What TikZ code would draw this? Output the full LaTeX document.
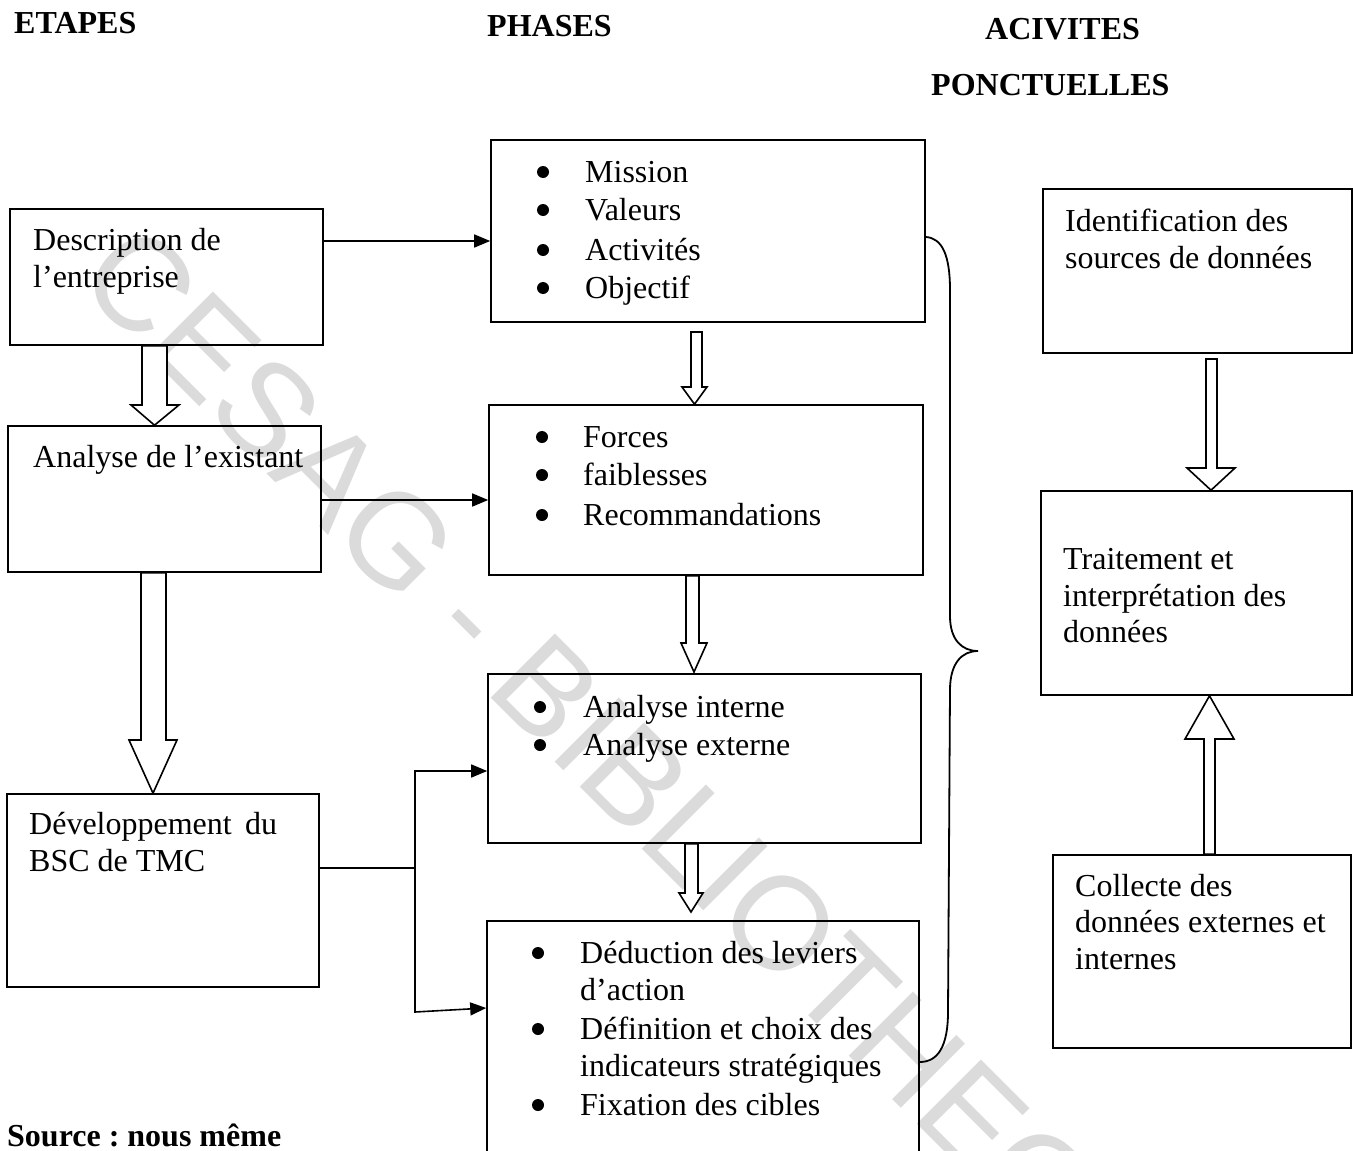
\documentclass[tikz,border=0pt]{standalone}
\usepackage{fontspec}
\setmainfont{Liberation Serif}
\newfontfamily\wmfont{Liberation Sans}
\usetikzlibrary{arrows.meta}
\frenchspacing

\begin{document}
\begin{tikzpicture}[x=1pt,y=-1pt,
  box/.style={draw, line width=1.6pt, inner sep=0pt},
  txt/.style={anchor=base west, inner sep=0pt, font=\fontsize{32}{38}\selectfont},
  hdr/.style={anchor=base west, inner sep=0pt, font=\fontsize{32}{38}\selectfont\bfseries},
  dot/.style={circle, fill, inner sep=0pt, minimum size=12pt},
  link/.style={line width=1.6pt, -{Triangle[length=16pt,width=13pt]}},
  plain/.style={line width=1.6pt},
  blk/.style={draw, line width=1.6pt, fill=white, line join=miter},
  brace/.style={line width=1.8pt},
  wmark/.style={anchor=base west, inner sep=0pt, text=black!14,
    font=\wmfont\fontsize{132}{132}\selectfont}
]
\useasboundingbox (0,0) rectangle (1353,1151);
\clip (0,0) rectangle (1353,1151);

% library stamp across the sheet
\node[wmark, rotate=-45] (stamp) at (74,281) {CESAG - BIBLIOTHEQUE};

% column titles
\node[hdr] (hEtapes) at (14,33) {ETAPES};
\node[hdr] (hPhases) at (487,36) {PHASES};
\node[hdr] (hAct1) at (985,39) {ACIVITES};
\node[hdr] (hAct2) at (931,95) {PONCTUELLES};
\node[hdr] (src) at (7,1146) {Source : nous même};

% steps
\node[box, minimum width=313, minimum height=136] (b1) at (166.5,277) {};
\node[box, minimum width=313, minimum height=146] (b2) at (164.5,499) {};
\node[box, minimum width=312, minimum height=193] (b3) at (163,890.5) {};

\node[txt] (b1a) at (33,250) {Description de};
\node[txt] (b1b) at (33,287) {l’entreprise};
\node[txt] (b2a) at (33,467) {Analyse de l’existant};
\node[txt] (b3a) at (29,834) {\makebox[248pt][s]{Développement du}};
\node[txt] (b3b) at (29,871) {BSC de TMC};

% phases
\node[box, minimum width=434, minimum height=182] (m1) at (708,231) {};
\node[box, minimum width=434, minimum height=170] (m2) at (706,490) {};
\node[box, minimum width=433, minimum height=169] (m3) at (704.5,758.5) {};
\node[box, minimum width=432, minimum height=259] (m4) at (703,1050.5) {};

\node[dot] (m1d1) at (543,172) {}; \node[txt] (m1t1) at (585,182) {Mission};
\node[dot] (m1d2) at (543,210) {}; \node[txt] (m1t2) at (585,220) {Valeurs};
\node[dot] (m1d3) at (543,250) {}; \node[txt] (m1t3) at (585,260) {Activités};
\node[dot] (m1d4) at (543,288) {}; \node[txt] (m1t4) at (585,298) {Objectif};

\node[dot] (m2d1) at (542,437) {}; \node[txt] (m2t1) at (583,447) {Forces};
\node[dot] (m2d2) at (542,475) {}; \node[txt] (m2t2) at (583,485) {faiblesses};
\node[dot] (m2d3) at (542,515) {}; \node[txt] (m2t3) at (583,525) {Recommandations};

\node[dot] (m3d1) at (540,707) {}; \node[txt] (m3t1) at (583,717) {Analyse interne};
\node[dot] (m3d2) at (540,745) {}; \node[txt] (m3t2) at (583,755) {Analyse externe};

\node[dot] (m4d1) at (538,953) {}; \node[txt] (m4t1) at (580,963) {Déduction des leviers};
\node[txt] (m4t2) at (580,1000) {d’action};
\node[dot] (m4d3) at (538,1029) {}; \node[txt] (m4t3) at (580,1039) {Définition et choix des};
\node[txt] (m4t4) at (580,1076) {indicateurs stratégiques};
\node[dot] (m4d5) at (538,1105) {}; \node[txt] (m4t5) at (580,1115) {Fixation des cibles};

% one-off activities
\node[box, minimum width=309, minimum height=164] (r1) at (1197.5,271) {};
\node[box, minimum width=311, minimum height=204] (r2) at (1196.5,593) {};
\node[box, minimum width=298, minimum height=193] (r3) at (1202,951.5) {};

\node[txt] (r1a) at (1065,231) {Identification des};
\node[txt] (r1b) at (1065,268) {sources de données};
\node[txt] (r2a) at (1063,569) {Traitement et};
\node[txt] (r2b) at (1063,606) {interprétation des};
\node[txt] (r2c) at (1063,642) {données};
\node[txt] (r3a) at (1075,896) {Collecte des};
\node[txt] (r3b) at (1075,932) {données externes et};
\node[txt] (r3c) at (1075,969) {internes};

% thin connectors
\draw[link] (b1.east |- 0,241) -- (m1.west |- 0,241);
\draw[link] (b2.east |- 0,500) -- (m2.west |- 0,500);
\coordinate (jn) at (415,868);
\draw[plain] (b3.east |- jn) -- (jn);
\draw[link] (jn) -- (415,771) -- (m3.west |- 0,771);
\draw[link] (jn) -- (415,1012) -- (m4.west |- 0,1008);

% hollow block arrows
\draw[blk] (142,0 |- b1.south) -- (142,405) -- (131,405) -- (154.5,0 |- b2.north)
  -- (179,405) -- (167,405) -- (167,0 |- b1.south) -- cycle;
\draw[blk] (141,0 |- b2.south) -- (141,740) -- (129,740) -- (153,0 |- b3.north)
  -- (177,740) -- (166,740) -- (166,0 |- b2.south) -- cycle;
\draw[blk] (691,332) -- (691,387) -- (682,387) -- (694.5,0 |- m2.north)
  -- (707,387) -- (702,387) -- (702,332) -- cycle;
\draw[blk] (686,0 |- m2.south) -- (686,643) -- (681,643) -- (694,672)
  -- (707,643) -- (699,643) -- (699,0 |- m2.south) -- cycle;
\draw[blk] (685,0 |- m3.south) -- (685,893) -- (679,893) -- (691,912)
  -- (703,893) -- (698,893) -- (698,0 |- m3.south) -- cycle;
\draw[blk] (1206,359) -- (1206,468) -- (1187,468) -- (1211,0 |- r2.north)
  -- (1235,468) -- (1217,468) -- (1217,359) -- cycle;
\draw[blk] (1204,0 |- r3.north) -- (1204,739) -- (1185,739) -- (1209.5,0 |- r2.south)
  -- (1234,739) -- (1215,739) -- (1215,0 |- r3.north) -- cycle;

% brace grouping the phases
\draw[brace] (m1.east |- 0,237) .. controls (942,238) and (950,255) .. (950,290)
  -- (950,616) .. controls (950,640) and (962,651) .. (978,651)
  .. controls (962,651) and (950,663) .. (950,690)
  -- (948,1012) .. controls (948,1046) and (938,1062) .. (m4.east |- 0,1062);
\end{tikzpicture}
\end{document}
